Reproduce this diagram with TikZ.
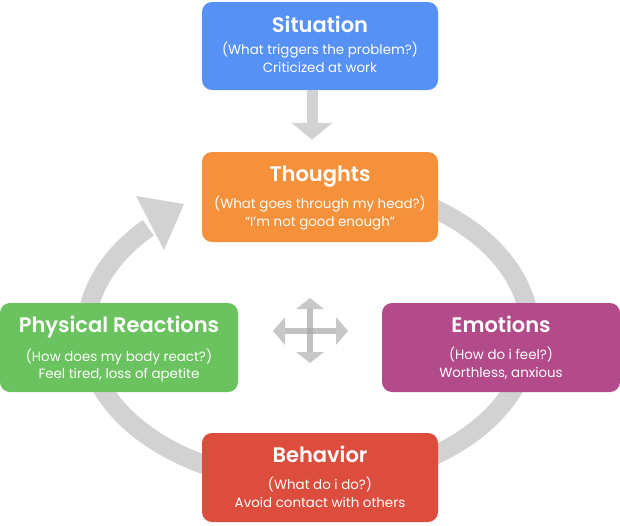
\documentclass[tikz,border=0pt]{standalone}
\usepackage{fontspec}
\setmainfont{Poppins}[BoldFont={Poppins SemiBold}]
\usetikzlibrary{arrows.meta}
\definecolor{sitblue}{RGB}{86,145,245}
\definecolor{thkorange}{RGB}{245,145,58}
\definecolor{phygreen}{RGB}{106,195,94}
\definecolor{emomag}{RGB}{179,74,138}
\definecolor{behred}{RGB}{220,77,62}
\definecolor{ringgray}{RGB}{210,210,210}
\definecolor{crossgray}{RGB}{160,160,160}
\definecolor{crosshead}{RGB}{200,200,200}
\newcommand{\ttlf}{\fontsize{21}{25}\selectfont\bfseries}
\newcommand{\subf}{\fontsize{13.4}{17.5}\selectfont}
% title, line 1, line 2, gap after title, depth below last line
\newcommand{\boxtxt}[5]{\ttlf\rule{0pt}{20pt}#1\\[#4]\subf #2\\\subf #3\rule[-#5]{0pt}{#5}}
\begin{document}
\begin{tikzpicture}[x=1pt,y=-1pt,
  box/.style={rounded corners=10pt, minimum width=236pt, minimum height=89pt,
    text=white, align=center, inner sep=0pt, font=\subf},
  ring/.style={draw=ringgray, line width=19pt},
  flowarrow/.style={draw=ringgray, line width=11pt, -{Triangle[width=40pt,length=17pt]}},
  shaft/.style={draw=crossgray, line width=6pt, opacity=0.65},
  crosstip/.style={fill=crosshead}
]
\useasboundingbox (0,0) rectangle (620,525);

% cycle ring
\draw[ring] (308,182) arc[start angle=270, end angle=584, x radius=222, y radius=150];
\fill[ringgray] (136,196) -- (184,204) -- (164,250) -- cycle;

% central cross
\coordinate (cc) at (310,331);
\fill[crosstip] (310,298) -- (324,309) -- (296,309) -- cycle;
\fill[crosstip] (310,363) -- (324,352) -- (296,352) -- cycle;
\fill[crosstip] (273,331) -- (285,317) -- (285,345) -- cycle;
\fill[crosstip] (348,331) -- (336,317) -- (336,345) -- cycle;
\draw[shaft] (310,309) -- (310,352);
\draw[shaft] (285,331) -- (336,331);

% boxes
\node[box, fill=sitblue, minimum height=88pt] (sit) at (320,46)
  {\boxtxt{Situation}{(What triggers the problem?)}{Criticized at work}{4.5pt}{7.5pt}};
\node[box, fill=thkorange, minimum height=90pt] (thk) at (320,197)
  {\boxtxt{Thoughts}{(What goes through my head?)}{“I’m not good enough”}{7.5pt}{6pt}};
\node[box, fill=phygreen, minimum width=238pt] (phy) at (119,347.5)
  {\boxtxt{Physical Reactions}{(How does my body react?)}{Feel tired, loss of apetite}{9.5pt}{3.5pt}};
\node[box, fill=emomag, minimum width=238pt] (emo) at (501,347.5)
  {\boxtxt{Emotions}{(How do i feel?)}{Worthless, anxious}{9.5pt}{5.5pt}};
\node[box, fill=behred] (beh) at (320,477.5)
  {\boxtxt{Behavior}{(What do i do?)}{Avoid contact with others}{9.5pt}{5.5pt}};

% situation -> thoughts
\draw[flowarrow, shorten >=12pt] ([xshift=-8pt]sit.south) -- ([xshift=-8pt]thk.north);
\end{tikzpicture}
\end{document}
